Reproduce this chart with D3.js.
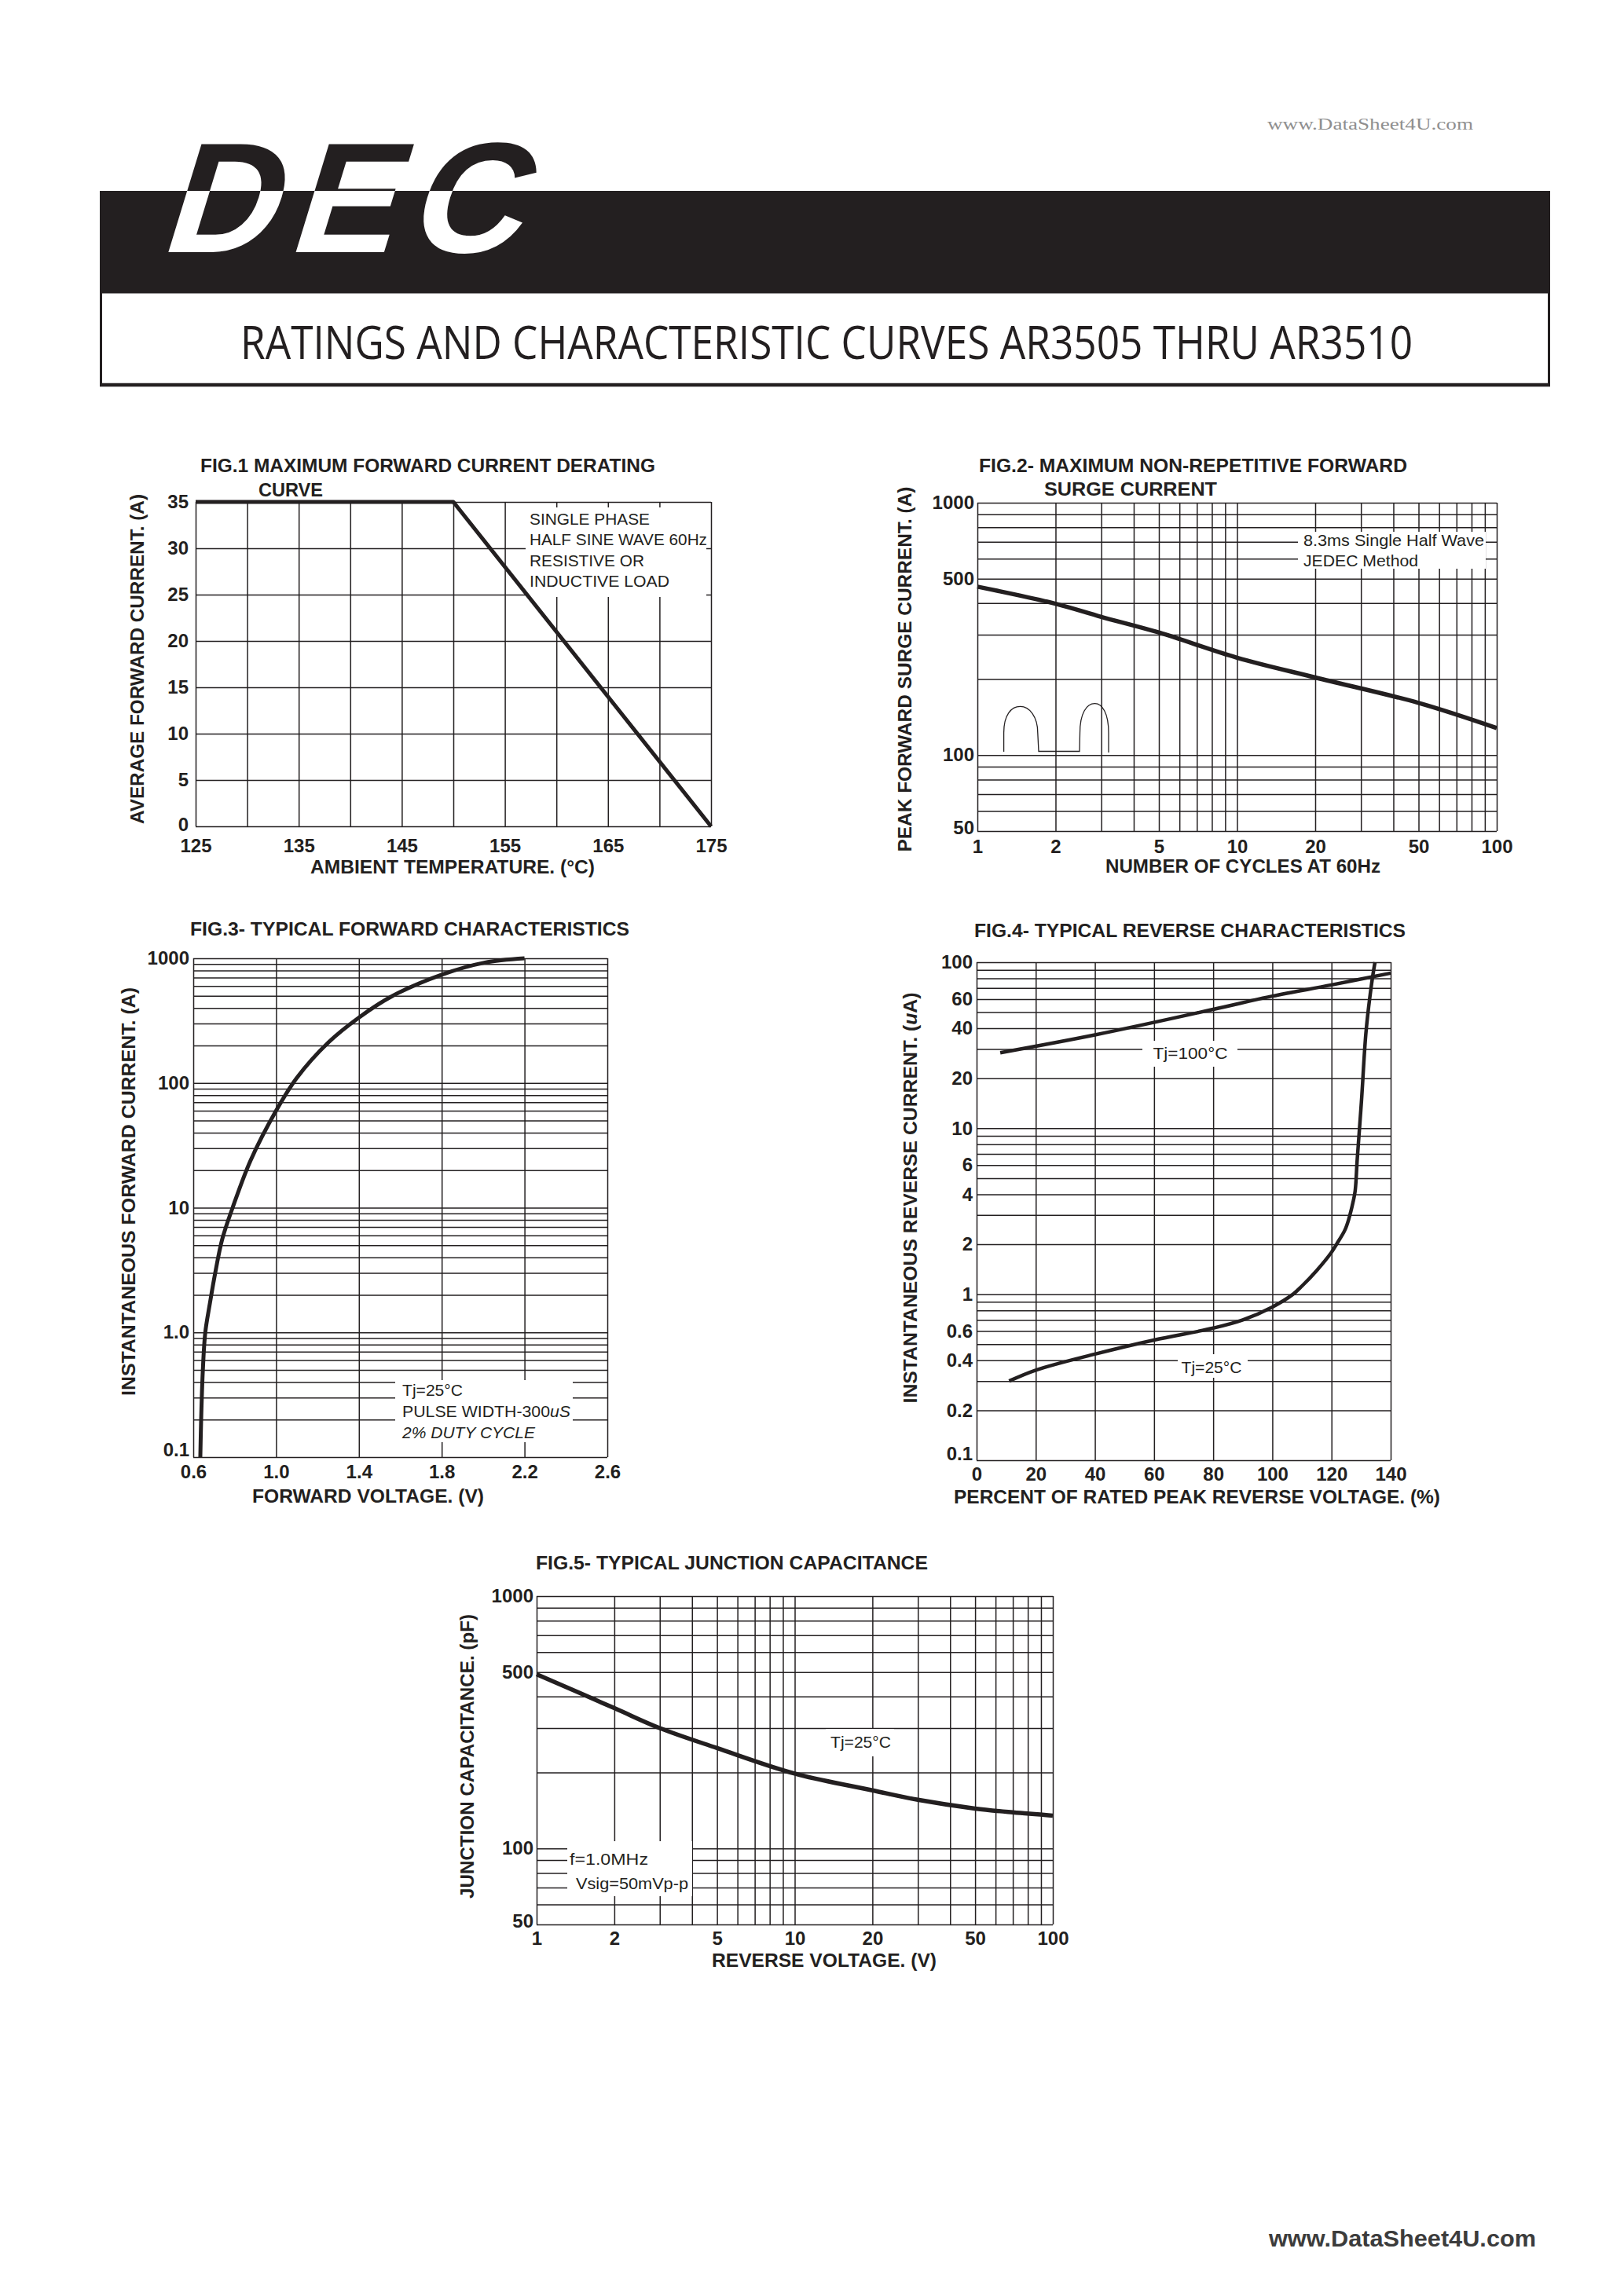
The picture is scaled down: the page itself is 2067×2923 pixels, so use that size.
<!DOCTYPE html>
<html><head><meta charset="utf-8">
<script src="https://d3js.org/d3.v7.min.js"></script>
<style>body{margin:0;background:#fff}svg{display:block}</style>
</head><body>
<script>
// ---------------- data ----------------
const fig1Temperature = [125, 150, 175];
const fig1Current = [35, 35, 0];
const fig1XTicks = [125, 135, 145, 155, 165, 175];
const fig1XGrid = [125, 130, 135, 140, 145, 150, 155, 160, 165, 170, 175];
const fig1YTicks = [0, 5, 10, 15, 20, 25, 30, 35];

const fig2Cycles = [1, 2, 3, 5, 10, 20, 50, 100];
const fig2Surge = [465, 398, 353, 306, 243, 203, 161, 128];
const fig2XTicks = [1, 2, 5, 10, 20, 50, 100];
const fig2YTicks = [50, 100, 500, 1000];

const fig3Voltage = [0.634, 0.638, 0.646, 0.658, 0.68, 0.706, 0.74, 0.79, 0.877, 1.0, 1.1, 1.253, 1.4, 1.56, 1.8, 2.005, 2.2];
const fig3Current = [0.1, 0.2, 0.49, 1.0, 1.7, 3.0, 5.6, 10, 24, 60, 110, 212, 335, 497, 739, 922, 1000];
const fig3XTicks = [0.6, 1.0, 1.4, 1.8, 2.2, 2.6];
const fig3XLabels = ["0.6", "1.0", "1.4", "1.8", "2.2", "2.6"];
const fig3YTicks = [0.1, 1, 10, 100, 1000];
const fig3YLabels = ["0.1", "1.0", "10", "100", "1000"];

const fig4Percent100 = [8, 40, 80, 100, 120, 140];
const fig4Current100 = [28.5, 36.5, 52, 62.5, 73, 86];
const fig4Percent25 = [11, 20, 40, 60, 80, 90, 100, 107, 110, 115, 120, 121.7, 124.5, 125.9, 127.3, 128, 128.7, 130.1, 131.7, 133.6, 134.7];
const fig4Current25 = [0.30, 0.349, 0.436, 0.53, 0.625, 0.70, 0.838, 1.0, 1.12, 1.39, 1.79, 2.0, 2.43, 2.86, 3.6, 4.2, 6.5, 14.3, 38.6, 75, 100];
const fig4XTicks = [0, 20, 40, 60, 80, 100, 120, 140];
const fig4YTicks = [0.1, 0.2, 0.4, 0.6, 1, 2, 4, 6, 10, 20, 40, 60, 100];

const fig5Voltage = [1, 2, 3, 5, 10, 20, 30, 50, 70, 100];
const fig5Capacitance = [490, 360, 300, 250, 198, 170, 156, 144, 139, 135];
const fig5XTicks = [1, 2, 5, 10, 20, 50, 100];
const fig5YTicks = [50, 100, 500, 1000];

// ---------------- setup ----------------
const INK = "#231f20";
const SANS = "'Liberation Sans', Arial, Helvetica, sans-serif";
const SMOOTH = d3.curveCatmullRom.alpha(0.5);
const svg = d3.select("body").append("svg")
  .attr("width", 2067).attr("height", 2923).attr("viewBox", "0 0 2067 2923");
svg.append("rect").attr("width", 2067).attr("height", 2923).attr("fill", "#fff");

function label(parent, s, x, y, o = {}) {
  const t = parent.append("text").attr("x", x).attr("y", y)
    .attr("font-family", o.family || SANS).attr("font-size", o.size || 24)
    .attr("font-weight", o.weight || "bold").attr("fill", o.fill || INK)
    .attr("text-anchor", o.anchor || "start");
  if (o.len) t.attr("textLength", o.len).attr("lengthAdjust", o.adjust || "spacingAndGlyphs");
  if (o.style) t.attr("font-style", o.style);
  if (o.rotate) t.attr("transform", `rotate(-90 ${x} ${y})`);
  if (Array.isArray(s)) s.forEach(p => { const ts = t.append("tspan").text(p.t); if (p.italic) ts.attr("font-style", "italic"); });
  else t.text(s);
  return t;
}

function plot(cfg) {
  const g = svg.append("g");
  const x = cfg.x, y = cfg.y;
  const [x0, x1] = x.range(), [y0, y1] = y.range();
  // grid through axes
  const gy = g.append("g").attr("transform", `translate(${x0},0)`)
    .call(d3.axisLeft(y).tickValues(cfg.yGrid).tickSize(-(x1 - x0)).tickFormat(""));
  const gx = g.append("g").attr("transform", `translate(0,${y0})`)
    .call(d3.axisBottom(x).tickValues(cfg.xGrid).tickSize(-(y0 - y1)).tickFormat(""));
  [gy, gx].forEach(a => { a.select(".domain").remove(); a.selectAll("line").attr("stroke", INK).attr("stroke-width", 1.5); });
  // white annotation boxes
  (cfg.boxes || []).forEach(b => g.append("rect").attr("x", b[0]).attr("y", b[1])
    .attr("width", b[2] - b[0]).attr("height", b[3] - b[1]).attr("fill", "#fff"));
  // tick labels
  const fs = 24;
  const ly = g.append("g").attr("transform", `translate(${x0},0)`)
    .call(d3.axisLeft(y).tickValues(cfg.yTicks).tickSize(0).tickPadding(x0 - cfg.yTickRight)
      .tickFormat((d, i) => cfg.yLabels ? cfg.yLabels[i] : String(d)));
  const lx = g.append("g").attr("transform", `translate(0,${y0})`)
    .call(d3.axisBottom(x).tickValues(cfg.xTicks).tickSize(0).tickPadding(cfg.xTickBase - y0 - 0.71 * fs)
      .tickFormat((d, i) => cfg.xLabels ? cfg.xLabels[i] : String(d)));
  [ly, lx].forEach(a => {
    a.select(".domain").remove();
    a.attr("font-family", SANS).attr("font-size", fs).attr("font-weight", "bold");
    a.selectAll("text").attr("fill", INK);
  });
  // lift the lowest y label clear of the first x label
  const yMin = d3.min(cfg.yTicks);
  ly.selectAll(".tick").filter(d => d === yMin).select("text")
    .attr("dy", `${0.32 * fs - (cfg.lowLift || 0)}px`);
  // curves
  (cfg.series || []).forEach(s => {
    const line = d3.line().x(d => x(d[0])).y(d => y(d[1])).curve(s.curve || SMOOTH);
    g.append("path").datum(d3.zip(s.xs, s.ys)).attr("d", line)
      .attr("fill", "none").attr("stroke", INK).attr("stroke-width", s.width || 5)
      .attr("stroke-linejoin", "round").attr("stroke-linecap", "butt");
  });
  // titles
  cfg.titles.forEach(t => label(svg, t.s, t.x, t.y, { len: t.len, size: 24 }));
  label(svg, cfg.xTitle.s, cfg.xTitle.x, cfg.xTitle.y, { len: cfg.xTitle.len, size: 24 });
  label(svg, cfg.yTitle.s, cfg.yTitle.x, cfg.yTitle.y, { len: cfg.yTitle.len, size: 24, anchor: "middle", rotate: true });
  (cfg.notes || []).forEach(n => label(svg, n.s, n.x, n.y, { len: n.len, size: 21, weight: "normal", style: n.style, anchor: n.anchor }));
  return g;
}

// ---------------- header ----------------
label(svg, "www.DataSheet4U.com", 1613, 165, { family: "'Liberation Serif', 'Times New Roman', serif", size: 20, weight: "normal", fill: "#8f8f8f", len: 262 });

const bar = { x0: 127, x1: 1973, y0: 243, y1: 372 };
svg.append("rect").attr("x", bar.x0).attr("y", bar.y0).attr("width", bar.x1 - bar.x0).attr("height", bar.y1 - bar.y0).attr("fill", INK);
svg.append("defs").append("clipPath").attr("id", "barClip")
  .append("rect").attr("x", bar.x0).attr("y", bar.y0).attr("width", bar.x1 - bar.x0).attr("height", bar.y1 - bar.y0);
function logo(fill, clip) {
  const outer = svg.append("g");
  if (clip) outer.attr("clip-path", "url(#barClip)");
  outer.append("g").attr("transform", "translate(201,321) skewX(-17)")
    .append("text").attr("x", 0).attr("y", 0).text("DEC")
    .attr("font-family", SANS).attr("font-weight", "bold").attr("font-size", 200)
    .attr("textLength", 458).attr("lengthAdjust", "spacing").attr("fill", fill);
}
logo(INK, false);
logo("#fff", true);

// title box
svg.append("rect").attr("x", 128.5).attr("y", 372).attr("width", 1843).attr("height", 118)
  .attr("fill", "none").attr("stroke", INK).attr("stroke-width", 3);
svg.append("line").attr("x1", 127).attr("x2", 1973).attr("y1", 490).attr("y2", 490).attr("stroke", INK).attr("stroke-width", 4.5);
label(svg, "RATINGS AND CHARACTERISTIC CURVES AR3505 THRU AR3510", 306, 457,
  { family: "'Open Sans', 'Noto Sans', sans-serif", size: 58, weight: "normal", len: 1492 });

// ---------------- FIG 1 ----------------
plot({
  x: d3.scaleLinear().domain([125, 175]).range([249, 905]),
  y: d3.scaleLinear().domain([0, 35]).range([1052, 639]),
  xGrid: fig1XGrid, yGrid: fig1YTicks, xTicks: fig1XTicks, yTicks: fig1YTicks,
  yTickRight: 240, xTickBase: 1085, lowLift: 2,
  boxes: [[669, 646, 899, 760]],
  series: [{ xs: fig1Temperature, ys: fig1Current, curve: d3.curveLinear, width: 5 }],
  titles: [{ s: "FIG.1 MAXIMUM FORWARD CURRENT DERATING", x: 255, y: 601, len: 579 },
           { s: "CURVE", x: 329, y: 632, len: 82 }],
  xTitle: { s: "AMBIENT TEMPERATURE. (°C)", x: 395, y: 1112, len: 362 },
  yTitle: { s: "AVERAGE FORWARD CURRENT. (A)", x: 183, y: 839, len: 420 },
  notes: [{ s: "SINGLE PHASE", x: 674, y: 668, len: 153 },
          { s: "HALF SINE WAVE 60Hz", x: 674, y: 694, len: 226 },
          { s: "RESISTIVE OR", x: 674, y: 721, len: 146 },
          { s: "INDUCTIVE LOAD", x: 674, y: 747, len: 178 }]
});

// ---------------- FIG 2 ----------------
const f2x = d3.scaleLog().domain([1, 100]).range([1244, 1905]);
const f2y = d3.scaleLog().domain([50, 1000]).range([1058, 640]);
plot({
  x: f2x, y: f2y,
  xGrid: f2x.ticks(), yGrid: f2y.ticks(), xTicks: fig2XTicks, yTicks: fig2YTicks,
  yTickRight: 1240, xTickBase: 1086, lowLift: 4,
  boxes: [[1652, 677, 1891, 724]],
  series: [{ xs: fig2Cycles, ys: fig2Surge, width: 5.5 }],
  titles: [{ s: "FIG.2- MAXIMUM NON-REPETITIVE FORWARD", x: 1246, y: 601, len: 545 },
           { s: "SURGE  CURRENT", x: 1329, y: 631, len: 220 }],
  xTitle: { s: "NUMBER OF CYCLES AT 60Hz", x: 1407, y: 1111, len: 350 },
  yTitle: { s: "PEAK FORWARD SURGE CURRENT. (A)", x: 1160, y: 852, len: 465 },
  notes: [{ s: "8.3ms Single Half Wave", x: 1659, y: 695, len: 230 },
          { s: "JEDEC Method", x: 1659, y: 721, len: 146 }]
});
// half-wave glyph
svg.append("path").attr("transform", "translate(1244,640)")
  .attr("d", "M33.6,317 L33.6,293 C33.6,270 43,259.4 54.6,259.4 C66,259.4 76.8,272 76.8,293 L78,316.5 L130,316.5 L130.5,293 C130.5,268 139,255.7 149.5,255.7 C159,255.7 167,268 167,293 L167,318")
  .attr("fill", "none").attr("stroke", INK).attr("stroke-width", 1.3);

// ---------------- FIG 3 ----------------
const f3y = d3.scaleLog().domain([0.1, 1000]).range([1855, 1220]);
plot({
  x: d3.scaleLinear().domain([0.6, 2.6]).range([246, 773]),
  y: f3y,
  xGrid: fig3XTicks, yGrid: f3y.ticks(), xTicks: fig3XTicks, xLabels: fig3XLabels,
  yTicks: fig3YTicks, yLabels: fig3YLabels,
  yTickRight: 241, xTickBase: 1882, lowLift: 9,
  boxes: [[503, 1757, 729, 1836]],
  series: [{ xs: fig3Voltage, ys: fig3Current, width: 5 }],
  titles: [{ s: "FIG.3- TYPICAL FORWARD CHARACTERISTICS", x: 242, y: 1191, len: 559 }],
  xTitle: { s: "FORWARD VOLTAGE. (V)", x: 321, y: 1913, len: 295 },
  yTitle: { s: "INSTANTANEOUS FORWARD CURRENT. (A)", x: 172, y: 1517, len: 520 },
  notes: [{ s: "Tj=25°C", x: 512, y: 1777, len: 77 },
          { s: [{ t: "PULSE WIDTH-300" }, { t: "uS", italic: true }], x: 512, y: 1804, len: 214 },
          { s: "2% DUTY CYCLE", x: 512, y: 1831, len: 169, style: "italic" }]
});

// ---------------- FIG 4 ----------------
const f4y = d3.scaleLog().domain([0.1, 100]).range([1859, 1225]);
plot({
  x: d3.scaleLinear().domain([0, 140]).range([1243, 1770]),
  y: f4y,
  xGrid: fig4XTicks, yGrid: f4y.ticks(), xTicks: fig4XTicks, yTicks: fig4YTicks,
  yTickRight: 1238, xTickBase: 1885, lowLift: 8,
  boxes: [[1454, 1325, 1575, 1358], [1499, 1724, 1588, 1754]],
  series: [{ xs: fig4Percent100, ys: fig4Current100, width: 4.5 },
           { xs: fig4Percent25, ys: fig4Current25, width: 4.5 }],
  titles: [{ s: "FIG.4- TYPICAL REVERSE CHARACTERISTICS", x: 1240, y: 1193, len: 549 }],
  xTitle: { s: "PERCENT OF RATED PEAK REVERSE VOLTAGE. (%)", x: 1214, y: 1914, len: 619 },
  yTitle: { s: [{ t: "INSTANTANEOUS REVERSE CURRENT. (" }, { t: "u", italic: true }, { t: "A)" }], x: 1167, y: 1525, len: 523 },
  notes: [{ s: "Tj=100°C", x: 1515, y: 1348, len: 95, anchor: "middle" },
          { s: "Tj=25°C", x: 1542, y: 1748, len: 77, anchor: "middle" }]
});

// ---------------- FIG 5 ----------------
const f5x = d3.scaleLog().domain([1, 100]).range([683, 1340]);
const f5y = d3.scaleLog().domain([50, 1000]).range([2450, 2032]);
plot({
  x: f5x, y: f5y,
  xGrid: f5x.ticks(), yGrid: f5y.ticks(), xTicks: fig5XTicks, yTicks: fig5YTicks,
  yTickRight: 679, xTickBase: 2476, lowLift: 4,
  boxes: [[1051, 2201, 1138, 2236], [722, 2344, 881, 2414]],
  series: [{ xs: fig5Voltage, ys: fig5Capacitance, width: 5.5 }],
  titles: [{ s: "FIG.5- TYPICAL JUNCTION CAPACITANCE", x: 682, y: 1998, len: 499 }],
  xTitle: { s: "REVERSE VOLTAGE. (V)", x: 906, y: 2504, len: 286 },
  yTitle: { s: "JUNCTION CAPACITANCE. (pF)", x: 603, y: 2236, len: 362 },
  notes: [{ s: "Tj=25°C", x: 1057, y: 2225, len: 77 },
          { s: "f=1.0MHz", x: 725, y: 2374, len: 100 },
          { s: "Vsig=50mVp-p", x: 733, y: 2405, len: 143 }]
});

// ---------------- footer ----------------
label(svg, "www.DataSheet4U.com", 1615, 2860, { size: 30, weight: "bold", fill: "#3c3c3c", len: 340 });
</script>
</body></html>
